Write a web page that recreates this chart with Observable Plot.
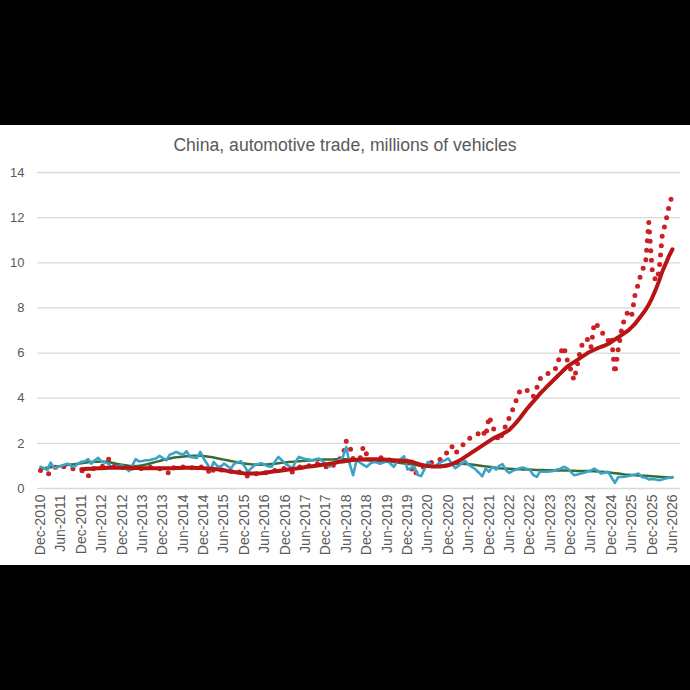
<!DOCTYPE html>
<html>
<head>
<meta charset="utf-8">
<script src="https://cdn.jsdelivr.net/npm/d3@7"></script>
<script src="https://cdn.jsdelivr.net/npm/@observablehq/plot@0.6"></script>
<style>
  html, body { margin: 0; padding: 0; background: #000; }
  #panel { position: absolute; left: 0; top: 125px; width: 690px; height: 440px; background: #fff; }
  #title { position: absolute; left: 0; top: 8px; width: 690px; text-align: center;
           font-family: "Liberation Sans", Arial, sans-serif; font-size: 17.6px; color: #595959; line-height: 24px; }
  #chart { position: absolute; left: 0; top: 0; }
</style>
</head>
<body>
<div id="panel">
  <div id="chart"></div>
  <div id="title">China, automotive trade, millions of vehicles</div>
</div>
<script>
// Monthly series, Dec-2010 ... Jun-2026 (187 months)
const firstMonth = "Dec-2010";

// Exports, monthly (annualised), dotted red
const exportsMonthly = [
  0.8,0.7,0.62,0.72,0.9,1.0,1.05,0.95,0.9,0.9,0.85,0.85,
  0.8,0.75,0.53,0.85,0.9,0.95,0.95,1.1,1.3,1.0,0.95,0.9,
  0.95,0.85,0.85,0.9,0.92,0.9,0.88,0.9,0.95,0.92,0.9,0.88,
  0.85,0.75,0.65,0.9,0.95,1.0,0.95,1.0,0.95,0.9,0.95,0.95,
  0.95,0.9,0.6,0.85,0.85,0.8,0.85,0.8,0.75,0.8,0.7,0.75,
  0.6,0.55,0.6,0.65,0.65,0.7,0.7,0.7,0.75,0.8,0.85,0.85,
  0.9,0.85,0.73,0.9,0.95,0.95,1.0,1.0,1.1,1.15,1.05,1.0,
  0.95,1.1,1.0,1.2,1.3,1.45,2.1,1.9,1.3,1.25,1.3,1.85,
  1.5,1.3,1.2,1.3,1.35,1.4,1.3,1.25,1.3,1.2,1.25,1.3,
  1.2,0.95,0.6,0.8,0.85,1.0,1.1,1.15,1.2,1.2,1.35,1.55,
  1.6,1.87,1.55,1.7,1.87,2.05,2.2,2.27,2.35,2.45,2.6,2.3,
  3.2,2.75,2.4,2.1,2.45,2.8,3.15,3.5,3.9,4.3,4.4,4.4,
  4.15,4.07,4.45,4.85,5.0,5.1,5.1,5.2,5.4,6.0,6.3,5.7,
  5.3,4.8,5.5,6.2,6.6,6.6,6.25,7.35,7.2,7.0,6.7,6.55,
  6.75,5.1,6.2,7.0,7.6,7.85,7.65,8.6,9.1,9.7,9.85,11.8,
  9.7,9.2,9.6,11.2,11.8,12.5,13.05
];

// Exports, trend (12-month average), thick dark red
const exportsTrend = [
  null,null,null,null,null,null,null,null,null,null,null,null,
  0.85,0.86,0.87,0.88,0.89,0.9,0.9,0.91,0.92,0.92,0.92,0.92,
  0.92,0.92,0.92,0.91,0.91,0.91,0.9,0.9,0.9,0.9,0.9,0.9,
  0.9,0.9,0.9,0.9,0.91,0.91,0.92,0.92,0.92,0.92,0.91,0.91,
  0.9,0.89,0.88,0.87,0.85,0.83,0.81,0.78,0.76,0.73,0.71,0.69,
  0.67,0.66,0.66,0.66,0.67,0.68,0.7,0.72,0.74,0.76,0.78,0.8,
  0.82,0.84,0.86,0.88,0.9,0.92,0.95,0.97,0.99,1.01,1.03,1.05,
  1.07,1.1,1.12,1.15,1.18,1.2,1.22,1.24,1.26,1.27,1.28,1.29,
  1.3,1.3,1.3,1.3,1.29,1.28,1.27,1.26,1.25,1.24,1.23,1.22,
  1.21,1.2,1.15,1.1,1.05,1.02,1.0,0.98,0.97,0.97,0.98,1.0,
  1.03,1.08,1.15,1.22,1.3,1.4,1.5,1.6,1.7,1.8,1.9,2.0,
  2.1,2.2,2.28,2.35,2.42,2.5,2.6,2.75,2.92,3.1,3.3,3.5,
  3.68,3.85,4.02,4.2,4.35,4.5,4.65,4.8,4.95,5.1,5.25,5.4,
  5.5,5.6,5.7,5.8,5.9,6.0,6.08,6.15,6.22,6.28,6.33,6.4,
  6.5,6.6,6.7,6.8,6.9,7.0,7.15,7.3,7.5,7.7,7.9,8.15,
  8.45,8.8,9.2,9.6,9.95,10.3,10.6
];

// Imports, monthly (annualised), light blue
const importsMonthly = [
  0.96,0.9,0.82,1.15,0.9,0.95,1.0,1.05,1.1,1.0,0.96,1.1,
  1.18,1.2,1.3,1.1,1.25,1.36,1.18,1.15,1.1,0.91,0.95,1.0,
  1.03,0.9,0.77,1.0,1.3,1.2,1.22,1.25,1.25,1.3,1.33,1.45,
  1.35,1.25,1.5,1.55,1.62,1.55,1.5,1.65,1.4,1.38,1.35,1.62,
  1.33,1.1,0.81,1.18,1.0,0.96,1.1,1.0,0.88,1.1,1.15,1.21,
  1.0,0.74,0.9,1.03,1.08,1.12,1.05,0.98,0.96,1.2,1.4,1.25,
  1.1,1.0,0.89,1.15,1.4,1.35,1.3,1.28,1.25,1.3,1.33,1.2,
  1.1,0.96,1.1,1.2,1.25,1.4,1.84,1.1,0.59,1.25,1.15,1.05,
  0.96,1.1,1.18,1.15,1.1,1.15,1.25,1.1,0.96,1.2,1.3,1.43,
  0.84,0.9,0.96,0.6,0.55,0.85,1.18,1.05,0.96,1.1,1.18,1.25,
  1.33,1.1,0.9,1.0,1.1,1.22,1.05,0.96,0.85,0.7,0.54,0.88,
  0.74,0.96,0.84,1.0,1.08,0.81,0.69,0.78,0.84,0.9,0.93,0.88,
  0.84,0.6,0.51,0.74,0.74,0.74,0.76,0.78,0.84,0.88,0.96,0.9,
  0.75,0.59,0.62,0.66,0.7,0.75,0.8,0.88,0.78,0.66,0.7,0.74,
  0.5,0.25,0.51,0.51,0.52,0.55,0.59,0.62,0.66,0.51,0.48,0.4,
  0.42,0.4,0.37,0.4,0.44,0.48,0.51
];

// Imports, trend, dark green
const importsTrend = [
  0.88,0.9,0.92,0.94,0.96,0.98,1.0,1.02,1.04,1.06,1.08,1.1,
  1.12,1.14,1.16,1.17,1.18,1.19,1.2,1.19,1.17,1.14,1.11,1.08,
  1.05,1.03,1.01,1.0,1.0,1.01,1.03,1.06,1.1,1.14,1.18,1.22,
  1.26,1.3,1.33,1.36,1.38,1.4,1.42,1.43,1.44,1.45,1.45,1.45,
  1.44,1.42,1.4,1.37,1.34,1.31,1.28,1.25,1.22,1.19,1.16,1.13,
  1.11,1.09,1.07,1.06,1.05,1.05,1.06,1.07,1.09,1.1,1.12,1.14,
  1.15,1.17,1.18,1.2,1.21,1.22,1.23,1.24,1.25,1.26,1.27,1.28,
  1.28,1.29,1.29,1.3,1.3,1.3,1.3,1.3,1.29,1.28,1.27,1.26,
  1.25,1.24,1.23,1.22,1.21,1.2,1.19,1.18,1.17,1.15,1.13,1.11,
  1.09,1.07,1.05,1.03,1.0,0.98,0.97,0.97,0.98,1.0,1.02,1.04,
  1.06,1.08,1.09,1.1,1.1,1.09,1.08,1.06,1.04,1.02,1.0,0.98,
  0.96,0.94,0.92,0.9,0.89,0.88,0.87,0.86,0.85,0.85,0.84,0.84,
  0.83,0.83,0.82,0.82,0.82,0.81,0.81,0.81,0.8,0.8,0.8,0.8,
  0.79,0.79,0.78,0.78,0.77,0.77,0.76,0.76,0.75,0.74,0.73,0.72,
  0.7,0.68,0.66,0.64,0.62,0.61,0.6,0.59,0.58,0.57,0.56,0.55,
  0.54,0.53,0.52,0.51,0.5,0.49,0.49
];

const xTickLabels = [
  "Dec-2010","Jun-2011","Dec-2011","Jun-2012","Dec-2012","Jun-2013","Dec-2013","Jun-2014",
  "Dec-2014","Jun-2015","Dec-2015","Jun-2016","Dec-2016","Jun-2017","Dec-2017","Jun-2018",
  "Dec-2018","Jun-2019","Dec-2019","Jun-2020","Dec-2020","Jun-2021","Dec-2021","Jun-2022",
  "Dec-2022","Jun-2023","Dec-2023","Jun-2024","Dec-2024","Jun-2025","Dec-2025","Jun-2026"
];
const yTicks = [0, 2, 4, 6, 8, 10, 12, 14];

const parse = d3.utcParse("%b-%Y");
const fmt = d3.utcFormat("%b-%Y");
const start = parse(firstMonth);
const rows = exportsMonthly.map((v, i) => ({
  date: d3.utcMonth.offset(start, i),
  exM: v,
  exT: exportsTrend[i],
  imM: importsMonthly[i],
  imT: importsTrend[i]
}));
const tickDates = xTickLabels.map(parse);

const chart = Plot.plot({
  width: 690,
  height: 440,
  marginTop: 47,
  marginBottom: 77,
  marginLeft: 37,
  marginRight: 10,
  style: { background: "transparent", fontFamily: "Liberation Sans, Arial, sans-serif", color: "#595959", overflow: "visible" },
  x: { type: "utc", domain: [new Date(Date.UTC(2010, 10, 4)), new Date(Date.UTC(2026, 7, 12))] },
  y: { domain: [0, 14] },
  marks: [
    Plot.gridY(yTicks, { stroke: "#d9d9d9", strokeOpacity: 1, strokeWidth: 1.3 }),
    Plot.axisY(yTicks, { tickSize: 0, tickPadding: 13, fontSize: 13, fill: "#595959", label: null }),
    Plot.axisX(tickDates, { tickSize: 0, tickPadding: 6, tickRotate: -90, fontSize: 14, fill: "#595959",
      tickFormat: fmt, label: null }),
    Plot.line(rows, { x: "date", y: "imT", stroke: "#3b6b35", strokeWidth: 2.5 }),
    Plot.line(rows, { x: "date", y: "exM", stroke: "#cc2027", strokeWidth: 5,
      strokeDasharray: "0,9.5", strokeLinecap: "round", strokeLinejoin: "round" }),
    Plot.line(rows, { x: "date", y: "imM", stroke: "#3ba3c6", strokeWidth: 2.6, strokeLinejoin: "round" }),
    Plot.line(rows.filter(d => d.exT != null), { x: "date", y: "exT", stroke: "#b81414", strokeWidth: 4, strokeLinejoin: "round" })
  ]
});
document.getElementById("chart").appendChild(chart);
</script>
</body>
</html>
